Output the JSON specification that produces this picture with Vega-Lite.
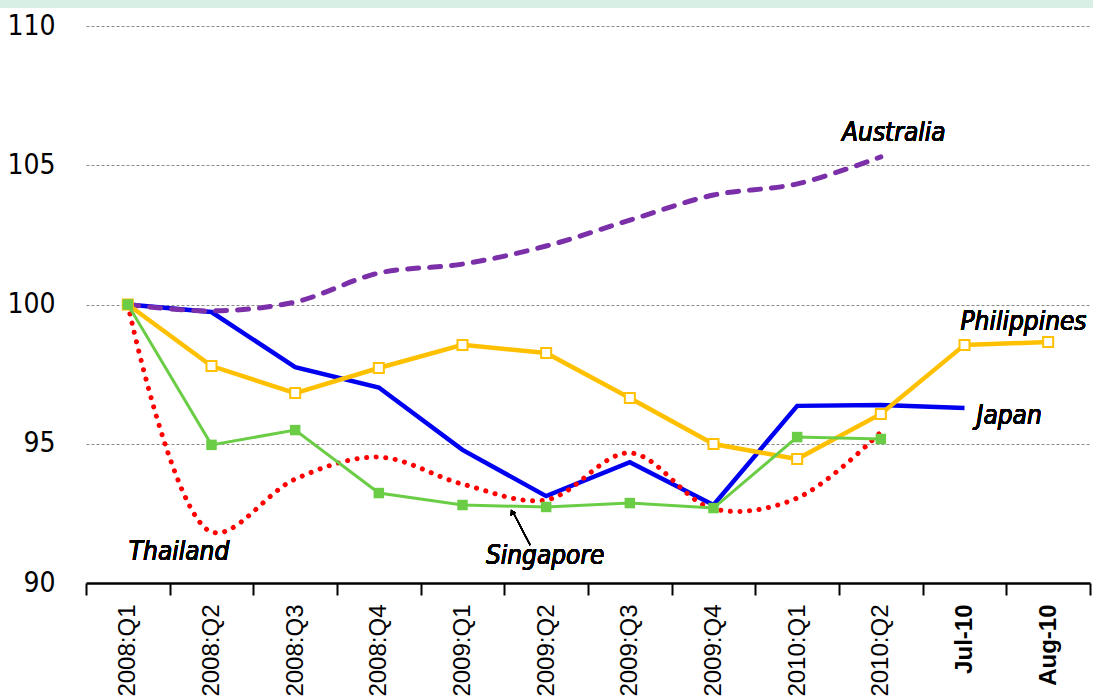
{
  "$schema": "https://vega.github.io/schema/vega-lite/v6.json",
  "autosize": {"type": "none"},
  "padding": {"left": 86, "top": 26, "right": 3, "bottom": 117},
  "width": 1004,
  "height": 557,
  "background": "white",
  "config": {"view": {"stroke": null}},
  "data": {"values": [
    {"period": "2008:Q1", "Japan": 100, "Australia": 100, "Philippines": 100, "Singapore": 100, "Thailand": 100},
    {"period": "2008:Q2", "Japan": 99.73, "Australia": 99.77, "Philippines": 97.79, "Singapore": 94.96, "Thailand": 91.83},
    {"period": "2008:Q3", "Japan": 97.75, "Australia": 100.09, "Philippines": 96.82, "Singapore": 95.49, "Thailand": 93.73},
    {"period": "2008:Q4", "Japan": 97.02, "Australia": 101.13, "Philippines": 97.72, "Singapore": 93.23, "Thailand": 94.52},
    {"period": "2009:Q1", "Japan": 94.78, "Australia": 101.45, "Philippines": 98.55, "Singapore": 92.8, "Thailand": 93.55},
    {"period": "2009:Q2", "Japan": 93.12, "Australia": 102.1, "Philippines": 98.26, "Singapore": 92.73, "Thailand": 92.98},
    {"period": "2009:Q3", "Japan": 94.34, "Australia": 103.03, "Philippines": 96.64, "Singapore": 92.87, "Thailand": 94.67},
    {"period": "2009:Q4", "Japan": 92.8, "Australia": 103.93, "Philippines": 94.99, "Singapore": 92.69, "Thailand": 92.66},
    {"period": "2010:Q1", "Japan": 96.36, "Australia": 104.33, "Philippines": 94.45, "Singapore": 95.24, "Thailand": 93.05},
    {"period": "2010:Q2", "Japan": 96.39, "Australia": 105.3, "Philippines": 96.07, "Singapore": 95.17, "Thailand": 95.42},
    {"period": "Jul-10", "Japan": 96.28, "Australia": null, "Philippines": 98.55, "Singapore": null, "Thailand": null},
    {"period": "Aug-10", "Japan": null, "Australia": null, "Philippines": 98.65, "Singapore": null, "Thailand": null}
  ]},
  "encoding": {
    "x": {
      "field": "period", "type": "ordinal", "sort": null,
      "scale": {"type": "band", "paddingInner": 0, "paddingOuter": 0,
        "domain": ["2008:Q1", "2008:Q2", "2008:Q3", "2008:Q4", "2009:Q1", "2009:Q2", "2009:Q3", "2009:Q4", "2010:Q1", "2010:Q2", "Jul-10", "Aug-10"]},
      "axis": {
        "title": null, "orient": "bottom", "labelAngle": 270,
        "domainColor": "black", "domainWidth": 2.5,
        "tickColor": "black", "tickWidth": 2, "tickSize": 12, "tickBand": "extent",
        "labelFont": "Liberation Sans", "labelFontSize": 24, "labelColor": "black",
        "labelFontWeight": {"expr": "indexof(datum.label, '-') > 0 ? 'bold' : 'normal'"},
        "labelPadding": 9, "labelOverlap": false, "labelBound": false, "grid": false
      }
    }
  },
  "layer": [
    {
      "mark": {"type": "rule", "color": "#d8efe6", "strokeWidth": 8, "xOffset": -128, "x2Offset": 45, "clip": false},
      "encoding": {
        "x": {"datum": "2008:Q1"}, "x2": {"datum": "Aug-10"},
        "y": {"datum": 110.8, "type": "quantitative"}
      }
    },
    {
      "mark": {"type": "line", "color": "#0000F0", "strokeWidth": 4.5},
      "encoding": {
        "y": {
          "field": "Japan", "type": "quantitative",
          "scale": {"domain": [90, 110], "nice": false, "zero": false},
          "axis": {
            "title": null, "values": [90, 95, 100, 105, 110], "domain": false,
            "ticks": false, "tickSize": 0, "labelPadding": 31,
            "labelFont": "DejaVu Sans Condensed", "labelFontSize": 28, "labelColor": "black",
            "grid": true, "gridColor": "#8a8a8a", "gridDash": [3, 2], "gridWidth": 1
          }
        }
      }
    },
    {
      "mark": {"type": "line", "color": "#7B2FA8", "strokeWidth": 5, "strokeDash": [11, 11], "strokeCap": "round", "interpolate": "catmull-rom"},
      "encoding": {"y": {"field": "Australia", "type": "quantitative"}}
    },
    {
      "mark": {"type": "line", "color": "#FF0000", "strokeWidth": 5, "strokeDash": [0.1, 9.5], "strokeCap": "round", "interpolate": "catmull-rom"},
      "encoding": {"y": {"field": "Thailand", "type": "quantitative"}}
    },
    {
      "mark": {"type": "line", "color": "#FFC000", "strokeWidth": 4.5},
      "encoding": {"y": {"field": "Philippines", "type": "quantitative"}}
    },
    {
      "mark": {"type": "point", "shape": "square", "filled": true, "fill": "white", "stroke": "#FFC000", "strokeWidth": 2, "size": 100, "opacity": 1},
      "encoding": {"y": {"field": "Philippines", "type": "quantitative"}}
    },
    {
      "mark": {"type": "line", "color": "#6ACD45", "strokeWidth": 3},
      "encoding": {"y": {"field": "Singapore", "type": "quantitative"}}
    },
    {
      "mark": {"type": "point", "shape": "square", "filled": true, "color": "#6ACD45", "size": 110, "opacity": 1},
      "encoding": {"y": {"field": "Singapore", "type": "quantitative"}}
    },
    {
      "mark": {"type": "text", "font": "DejaVu Sans Condensed", "fontStyle": "italic", "fontSize": 26, "color": "black", "align": "center", "baseline": "middle", "dx": 13},
      "encoding": {"x": {"datum": "2010:Q2"}, "y": {"datum": 106.16, "type": "quantitative"}, "text": {"value": "Australia"}}
    },
    {
      "mark": {"type": "text", "font": "DejaVu Sans Condensed", "fontStyle": "italic", "fontSize": 26, "color": "black", "align": "left", "baseline": "middle", "dx": -4},
      "encoding": {"x": {"datum": "Jul-10"}, "y": {"datum": 99.37, "type": "quantitative"}, "text": {"value": "Philippines"}}
    },
    {
      "mark": {"type": "text", "font": "DejaVu Sans Condensed", "fontStyle": "italic", "fontSize": 26, "color": "black", "align": "left", "baseline": "middle", "dx": 12},
      "encoding": {"x": {"datum": "Jul-10"}, "y": {"datum": 96.0, "type": "quantitative"}, "text": {"value": "Japan"}}
    },
    {
      "mark": {"type": "text", "font": "DejaVu Sans Condensed", "fontStyle": "italic", "fontSize": 26, "color": "black", "align": "left", "baseline": "middle", "dx": 1},
      "encoding": {"x": {"datum": "2008:Q1"}, "y": {"datum": 91.1, "type": "quantitative"}, "text": {"value": "Thailand"}}
    },
    {
      "mark": {"type": "text", "font": "DejaVu Sans Condensed", "fontStyle": "italic", "fontSize": 26, "color": "black", "align": "center", "baseline": "middle", "dx": -1},
      "encoding": {"x": {"datum": "2009:Q2"}, "y": {"datum": 90.97, "type": "quantitative"}, "text": {"value": "Singapore"}}
    },
    {
      "mark": {"type": "rule", "color": "black", "strokeWidth": 1.2, "xOffset": -16, "x2Offset": -34},
      "encoding": {
        "x": {"datum": "2009:Q2"}, "x2": {"datum": "2009:Q2"},
        "y": {"datum": 91.36, "type": "quantitative"}, "y2": {"datum": 92.6}
      }
    },
    {
      "mark": {"type": "point", "shape": "triangle-up", "filled": true, "color": "black", "size": 35, "angle": -28, "xOffset": -34, "opacity": 1},
      "encoding": {"x": {"datum": "2009:Q2"}, "y": {"datum": 92.55, "type": "quantitative"}}
    }
  ]
}
